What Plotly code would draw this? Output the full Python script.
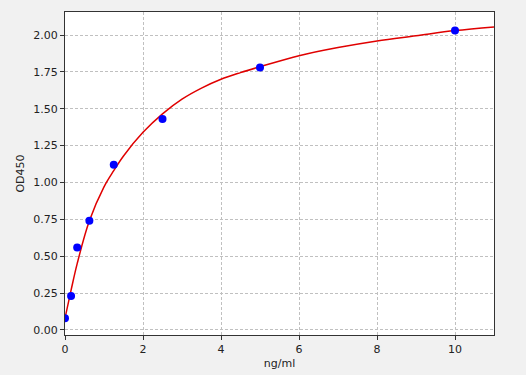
import plotly.graph_objects as go

conc = [0, 0.156, 0.3125, 0.625, 1.25, 2.5, 5, 10]
od = [0.08, 0.23, 0.56, 0.74, 1.12, 1.43, 1.78, 2.03]

curve_x = [0, 0.156, 0.3125, 0.625, 1, 1.25, 1.5, 2, 2.5, 3, 3.5, 4, 4.5, 5, 6, 7, 8, 9, 10, 11]
curve_y = [0.08, 0.27, 0.45, 0.74, 0.97, 1.08, 1.18, 1.34, 1.465, 1.565, 1.64, 1.70, 1.745,
           1.785, 1.86, 1.915, 1.96, 1.995, 2.03, 2.055]

xticks = [0, 2, 4, 6, 8, 10]
yticks = [0, 0.25, 0.5, 0.75, 1.0, 1.25, 1.5, 1.75, 2.0]

fig = go.Figure()
fig.add_trace(go.Scatter(x=curve_x, y=curve_y, mode="lines", line_shape="spline",
                         line=dict(color="#e00000", width=1.5, smoothing=1.0), showlegend=False))
fig.add_trace(go.Scatter(x=conc, y=od, mode="markers",
                         marker=dict(color="#0000ff", size=8), showlegend=False))

axis_common = dict(showline=True, linecolor="#333333", linewidth=1, mirror=True,
                   ticks="outside", ticklen=4, tickcolor="#333333",
                   showgrid=True, gridcolor="#c0c0c0", griddash="3px,2px", gridwidth=0.8,
                   zeroline=False, automargin=False,
                   tickfont=dict(size=11, color="#222222"))

fig.update_layout(
    width=526, height=375,
    margin=dict(l=65, r=32, t=12, b=40),
    paper_bgcolor="#f1f1f1", plot_bgcolor="#ffffff",
    font=dict(family="DejaVu Sans", size=11, color="#222222"),
    xaxis=dict(range=[0, 11], tickvals=xticks, ticktext=[str(v) for v in xticks],
               title=dict(text="ng/ml", standoff=4, font=dict(size=11)), **axis_common),
    yaxis=dict(range=[-0.034, 2.156], tickvals=yticks, ticktext=[f"{v:.2f}" for v in yticks],
               title=dict(text="OD450", standoff=6, font=dict(size=11)), **axis_common),
)

fig.write_html("out.html", config={"displayModeBar": False},
               post_script="document.body.style.margin='0';document.body.style.background='#f1f1f1';")
